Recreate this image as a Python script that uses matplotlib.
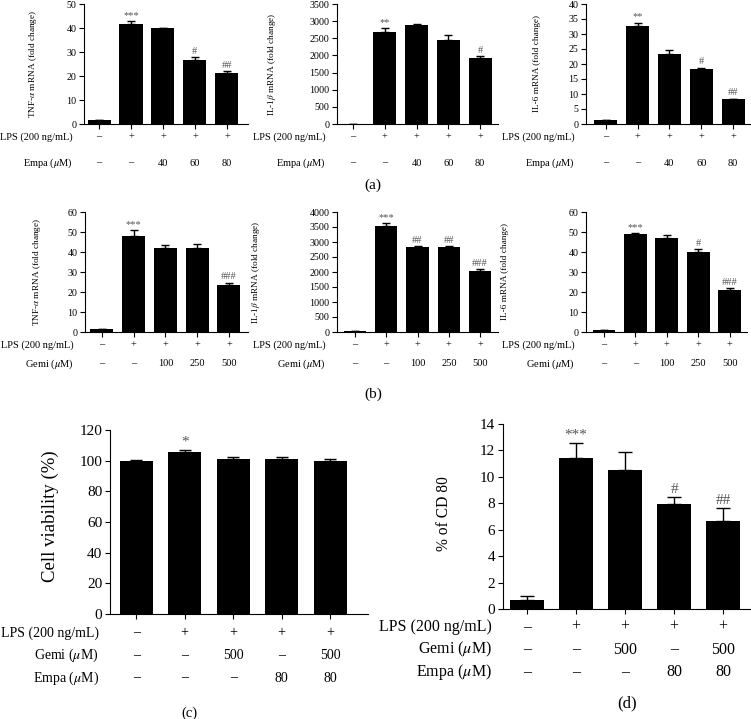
import numpy as np
import matplotlib
matplotlib.use("Agg")
import matplotlib.pyplot as plt

plt.rcParams['font.family'] = ['Liberation Serif', 'DejaVu Serif']
plt.rcParams['mathtext.fontset'] = 'stix'

# ---- data ----
lps_row = ['–', '+', '+', '+', '+']
empa_row = ['–', '–', '40', '60', '80']
gemi_row = ['–', '–', '100', '250', '500']
combo_gemi = ['–', '–', '500', '–', '500']
combo_empa = ['–', '–', '–', '80', '80']

tnf_empa = [1.5, 41.5, 40.0, 26.8, 21.2]
tnf_empa_err = [0.0, 1.3, 0.2, 1.0, 0.9]
tnf_empa_sig = ['', '***', '', '#', '##']

il1b_empa = [5, 2680, 2900, 2460, 1920]
il1b_empa_err = [0, 110, 10, 130, 60]
il1b_empa_sig = ['', '**', '', '', '#']

il6_empa = [1.3, 32.6, 23.4, 18.2, 8.2]
il6_empa_err = [0.0, 1.2, 1.2, 0.6, 0.3]
il6_empa_sig = ['', '**', '', '#', '##']

tnf_gemi = [1.3, 48.0, 42.0, 42.0, 23.4]
tnf_gemi_err = [0.0, 3.0, 1.5, 2.0, 1.2]
tnf_gemi_sig = ['', '***', '', '', '###']

il1b_gemi = [20, 3530, 2820, 2820, 2050]
il1b_gemi_err = [0, 100, 40, 40, 50]
il1b_gemi_sig = ['', '***', '##', '##', '###']

il6_gemi = [1.2, 48.8, 47.0, 40.0, 21.0]
il6_gemi_err = [0.0, 0.7, 1.5, 1.5, 1.0]
il6_gemi_sig = ['', '***', '', '#', '###']

viability = [100.0, 105.5, 101.3, 101.2, 100.0]
viability_err = [0.6, 1.3, 1.4, 1.2, 1.0]
viability_sig = ['', '*', '', '', '']

cd80 = [0.65, 11.4, 10.5, 7.95, 6.65]
cd80_err = [0.3, 1.2, 1.35, 0.5, 1.0]
cd80_sig = ['', '***', '', '#', '##']

W, H = 751, 719
fig = plt.figure(figsize=(W / 100, H / 100), dpi=100)


def px_axes(left, right, top, bottom):
    return fig.add_axes([left / W, (H - bottom) / H, (right - left) / W, (bottom - top) / H])


def draw_panel(ax, vals, errs, sig, ymax, ystep, rows, row_names, xlim,
               tick_fs, row_fs, sig_fs, row_gap, row_first, width, capsize):
    x = np.arange(len(vals))
    ax.bar(x, vals, width=width, color='black', zorder=2)
    ax.errorbar(x, vals, yerr=[np.zeros(len(errs)), errs], fmt='none',
                ecolor='black', elinewidth=1, capsize=capsize, capthick=1, zorder=1)
    for xi, v, e, s in zip(x, vals, errs, sig):
        if s:
            ax.annotate(s, xy=(xi, v + e), xytext=(0, 1), textcoords='offset points',
                        ha='center', va='bottom', fontsize=sig_fs, color='#555555')
    ax.set_ylim(0, ymax)
    ax.set_yticks(np.arange(0, ymax + ystep / 2, ystep))
    ax.set_xlim(*xlim)
    ax.set_xticks(x)
    ax.set_xticklabels([])
    ax.spines['top'].set_visible(False)
    ax.spines['right'].set_visible(False)
    ax.tick_params(axis='both', direction='out', length=3.5, width=0.8,
                   labelsize=tick_fs, pad=2)
    for r, (row, name) in enumerate(zip(rows, row_names)):
        dy = -(row_first + r * row_gap) * 0.72
        for xi, lab in zip(x, row):
            ax.annotate(lab, xy=(xi, 0), xycoords=('data', 'axes fraction'),
                        xytext=(0, dy), textcoords='offset points',
                        ha='center', va='center', fontsize=row_fs)
        ax.annotate(name, xy=(0, 0), xycoords='axes fraction',
                    xytext=(-11 * 0.72, dy), textcoords='offset points',
                    ha='right', va='center', fontsize=row_fs)


def ylab(xc, yc, text, fs):
    fig.text(xc / W, 1 - yc / H, text, rotation=90, ha='center', va='center', fontsize=fs)


lps_name = 'LPS (200 ng/mL)'
empa_name = 'Empa ($\\mu$M)'
gemi_name = 'Gemi ($\\mu$M)'
tnf_lab = 'TNF-$\\alpha$ mRNA (fold change)'
il1b_lab = 'IL-1$\\beta$ mRNA (fold change)'
il6_lab = 'IL-6 mRNA (fold change)'

small = dict(tick_fs=7.2, row_fs=7.5, sig_fs=7.5, width=0.72, capsize=3)

# (a) empagliflozin
ax = px_axes(84, 248, 4, 124)
draw_panel(ax, tnf_empa, tnf_empa_err, tnf_empa_sig, 50, 10,
           [lps_row, empa_row], [lps_name, empa_name], (-0.47, 4.66),
           row_gap=26, row_first=13, **small)
ylab(33, 64, tnf_lab, 6.7)
ax = px_axes(337, 498, 4, 124)
draw_panel(ax, il1b_empa, il1b_empa_err, il1b_empa_sig, 3500, 500,
           [lps_row, empa_row], [lps_name, empa_name], (-0.5, 4.56),
           row_gap=26, row_first=13, **small)
ylab(272, 64, il1b_lab, 6.7)
ax = px_axes(586, 750, 4, 124)
draw_panel(ax, il6_empa, il6_empa_err, il6_empa_sig, 40, 5,
           [lps_row, empa_row], [lps_name, empa_name], (-0.62, 4.53),
           row_gap=26, row_first=13, **small)
ylab(537, 64, il6_lab, 6.7)
fig.text(373 / W, 1 - 185 / H, '(a)', ha='center', va='center', fontsize=11)

# (b) gemigliptin
ax = px_axes(85, 248, 212, 332)
draw_panel(ax, tnf_gemi, tnf_gemi_err, tnf_gemi_sig, 60, 10,
           [lps_row, gemi_row], [lps_name, gemi_name], (-0.53, 4.6),
           row_gap=19, row_first=13, **small)
ylab(37, 272, tnf_lab, 6.7)
ax = px_axes(337, 498, 212, 332)
draw_panel(ax, il1b_gemi, il1b_gemi_err, il1b_gemi_sig, 4000, 500,
           [lps_row, gemi_row], [lps_name, gemi_name], (-0.57, 4.57),
           row_gap=19, row_first=13, **small)
ylab(256, 272, il1b_lab, 6.7)
ax = px_axes(586, 747, 212, 332)
draw_panel(ax, il6_gemi, il6_gemi_err, il6_gemi_sig, 60, 10,
           [lps_row, gemi_row], [lps_name, gemi_name], (-0.57, 4.55),
           row_gap=19, row_first=13, **small)
ylab(505, 272, il6_lab, 6.7)
fig.text(373 / W, 1 - 394 / H, '(b)', ha='center', va='center', fontsize=11)

# (c) cell viability
ax = px_axes(110, 368, 430, 614)
draw_panel(ax, viability, viability_err, viability_sig, 120, 20,
           [lps_row, combo_gemi, combo_empa], [lps_name, gemi_name, empa_name],
           (-0.54, 4.78), tick_fs=11, row_fs=10, sig_fs=11,
           row_gap=22.5, row_first=19, width=0.68, capsize=4)
ylab(50, 516, 'Cell viability (%)', 13.5)
fig.text(189 / W, 1 - 713 / H, '(c)', ha='center', va='center', fontsize=10.5)

# (d) CD80
ax = px_axes(503, 750, 424, 609)
draw_panel(ax, cd80, cd80_err, cd80_sig, 14, 2,
           [lps_row, combo_gemi, combo_empa], [lps_name, gemi_name, empa_name],
           (-0.49, 4.55), tick_fs=11, row_fs=11.5, sig_fs=11,
           row_gap=22.5, row_first=18, width=0.71, capsize=5)
ylab(444, 514, '% of CD 80', 11.2)
fig.text(627 / W, 1 - 703 / H, '(d)', ha='center', va='center', fontsize=12)

fig.savefig('out.png', dpi=100)
